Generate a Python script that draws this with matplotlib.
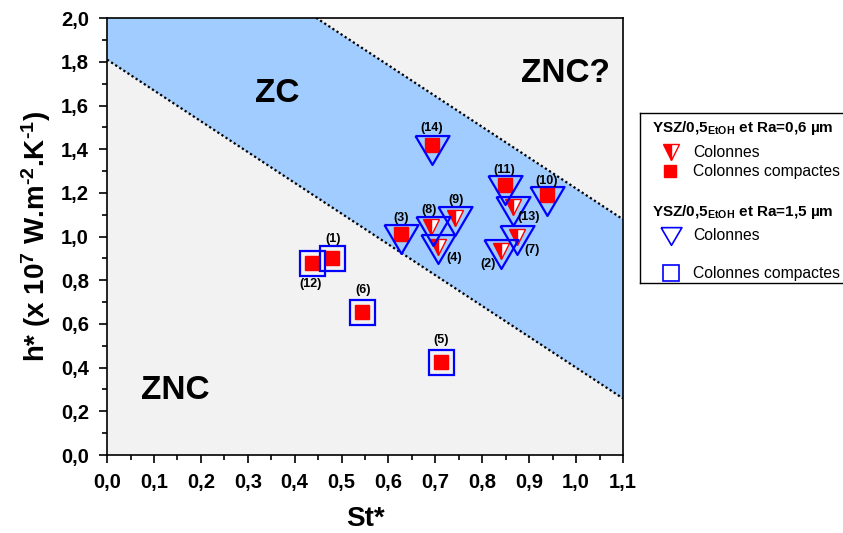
import numpy as np
import matplotlib
matplotlib.use("Agg")
import matplotlib.pyplot as plt
from matplotlib.ticker import MultipleLocator, FuncFormatter

plt.rcParams['font.family'] = ['Liberation Sans', 'DejaVu Sans']
plt.rcParams['font.weight'] = 'bold'
plt.rcParams['mathtext.fontset'] = 'custom'
plt.rcParams['mathtext.rm'] = 'Liberation Sans:bold'
plt.rcParams['mathtext.bf'] = 'Liberation Sans:bold'
plt.rcParams['mathtext.default'] = 'bf'

# Ra = 0,6 um (red)
lab_r06_col = ['(2)', '(4)', '(7)', '(8)', '(9)', '(13)']
st_r06_col = [0.840, 0.706, 0.873, 0.691, 0.742, 0.866]
h_r06_col = [0.932, 0.953, 0.999, 1.042, 1.083, 1.135]
lab_r06_cmp = ['(1)', '(3)', '(5)', '(6)', '(10)', '(11)', '(12)', '(14)']
st_r06_cmp = [0.479, 0.627, 0.713, 0.544, 0.938, 0.849, 0.438, 0.693]
h_r06_cmp = [0.902, 1.011, 0.427, 0.656, 1.189, 1.236, 0.880, 1.419]

# Ra = 1,5 um (blue)
st_r15_col = [0.840, 0.627, 0.705, 0.873, 0.696, 0.742, 0.937, 0.849, 0.865, 0.693]
h_r15_col = [0.922, 0.989, 0.942, 0.985, 1.025, 1.070, 1.165, 1.215, 1.119, 1.398]
st_r15_cmp = [0.479, 0.713, 0.544, 0.436]
h_r15_cmp = [0.902, 0.427, 0.656, 0.877]

# point labels
labels = ['(1)', '(2)', '(3)', '(4)', '(5)', '(6)', '(7)', '(8)', '(9)', '(10)', '(11)', '(12)', '(13)', '(14)']
lab_x = [0.481, 0.813, 0.627, 0.741, 0.713, 0.545, 0.907, 0.687, 0.744, 0.937, 0.847, 0.433, 0.898, 0.692]
lab_y = [0.989, 0.873, 1.083, 0.900, 0.526, 0.755, 0.938, 1.121, 1.167, 1.254, 1.307, 0.781, 1.091, 1.495]

# zone boundaries h = a + b*St
slope = -1.41
a_low = 1.81
a_high = 2.63

fig = plt.figure(figsize=(8.43, 5.33), dpi=100)
ax = fig.add_axes([0.127, 0.1463, 0.612, 0.8197])
ax.set_facecolor('#f2f2f2')

xs = np.linspace(0, 1.1, 200)
ax.fill_between(xs, a_low + slope * xs, a_high + slope * xs, color='#a0ccff', lw=0, zorder=1)
ax.plot(xs, a_low + slope * xs, color='black', ls=(0, (1, 1.2)), lw=1.6, zorder=2)
ax.plot(xs, a_high + slope * xs, color='black', ls=(0, (1, 1.2)), lw=1.6, zorder=2)

tri = [(-1, 0.85), (1, 0.85), (0, -0.85), (-1, 0.85)]

ax.plot(st_r06_cmp, h_r06_cmp, ls='none', marker='s', ms=9.5, mfc='red', mec='red', zorder=3)
ax.plot(st_r06_col, h_r06_col, ls='none', marker='v', ms=11, mfc='red', mfcalt='white',
        fillstyle='left', mec='red', mew=1.0, zorder=3)
ax.plot(st_r15_col, h_r15_col, ls='none', marker=tri, ms=24.5, mfc='none', mec='blue', mew=1.6, zorder=4)
ax.plot(st_r15_cmp, h_r15_cmp, ls='none', marker='s', ms=18, mfc='none', mec='blue', mew=1.6, zorder=4)

for t, x, y in zip(labels, lab_x, lab_y):
    ax.text(x, y, t, fontsize=9, fontweight='bold', ha='center', va='center', zorder=5)

ax.text(0.362, 1.657, 'ZC', fontsize=24, fontweight='bold', ha='center', va='center')
ax.text(0.977, 1.748, 'ZNC?', fontsize=24, fontweight='bold', ha='center', va='center')
ax.text(0.145, 0.297, 'ZNC', fontsize=24, fontweight='bold', ha='center', va='center')

ax.set_xlim(0, 1.1)
ax.set_ylim(0, 2.0)
ax.xaxis.set_major_locator(MultipleLocator(0.1))
ax.xaxis.set_minor_locator(MultipleLocator(0.05))
ax.yaxis.set_major_locator(MultipleLocator(0.2))
ax.yaxis.set_minor_locator(MultipleLocator(0.1))
fmt = FuncFormatter(lambda v, p: ('%.1f' % v).replace('.', ','))
ax.xaxis.set_major_formatter(fmt)
ax.yaxis.set_major_formatter(fmt)
ax.tick_params(which='major', direction='out', length=6, width=1.2, labelsize=14.5, pad=7)
ax.tick_params(which='minor', direction='out', length=3.5, width=1.2)
for lbl in ax.get_xticklabels() + ax.get_yticklabels():
    lbl.set_fontweight('bold')
for s in ax.spines.values():
    s.set_linewidth(1.2)

ax.set_xlabel('St*', fontsize=20, fontweight='bold', labelpad=10)
ax.set_ylabel('h* (x 10$^{7}$ W.m$^{\u2010 2}$.K$^{\u2010 1}$)', fontsize=20, fontweight='bold', labelpad=6)

# legend box drawn by hand
lg = fig.add_axes([0.759, 0.469, 0.25, 0.319])
lg.set_xlim(0, 0.25 * 843)
lg.set_ylim(170, 0)
lg.set_xticks([])
lg.set_yticks([])
for s in lg.spines.values():
    s.set_linewidth(1.0)
lg.text(12, 15, r'YSZ/0,5$_{EtOH}$ et Ra=0,6 µm', fontsize=11, fontweight='bold', va='center')
lg.plot([31], [39], ls='none', marker='v', ms=11, mfc='red', mfcalt='white', fillstyle='left', mec='red')
lg.text(53, 39, 'Colonnes', fontsize=11.3, fontweight='normal', va='center')
lg.plot([30], [58], ls='none', marker='s', ms=9, mfc='red', mec='red')
lg.text(53, 58, 'Colonnes compactes', fontsize=11.3, fontweight='normal', va='center')
lg.text(12, 99, r'YSZ/0,5$_{EtOH}$ et Ra=1,5 µm', fontsize=11, fontweight='bold', va='center')
lg.plot([31], [123], ls='none', marker=tri, ms=15, mfc='none', mec='blue', mew=1.2)
lg.text(53, 122, 'Colonnes', fontsize=11.3, fontweight='normal', va='center')
lg.plot([31], [160], ls='none', marker='s', ms=11, mfc='none', mec='blue', mew=1.2)
lg.text(53, 160, 'Colonnes compactes', fontsize=11.3, fontweight='normal', va='center')

fig.savefig('out.png', dpi=100)
